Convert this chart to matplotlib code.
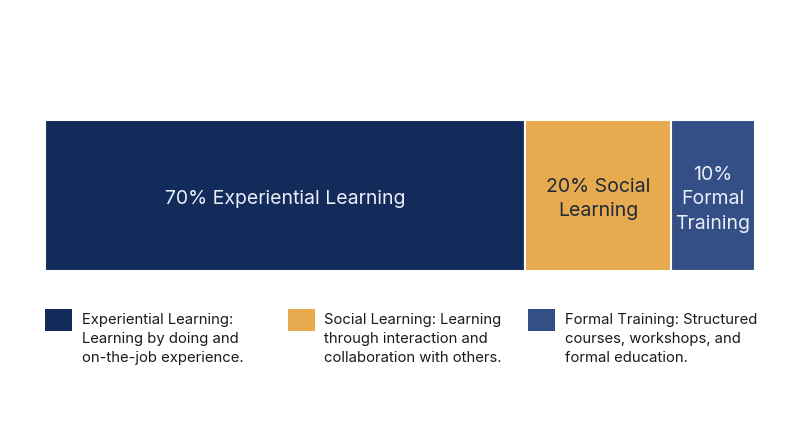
import matplotlib
matplotlib.use("Agg")
import matplotlib.pyplot as plt
from matplotlib.patches import Rectangle

plt.rcParams['font.family'] = ['Inter', 'DejaVu Sans']

# Data
categories = ["Experiential Learning", "Social Learning", "Formal Training"]
shares = [70, 20, 10]                 # labelled percentages
widths = [67.6, 20.6, 11.8]           # drawn widths
bar_labels = ["70% Experiential Learning", "20% Social\nLearning", "10%\nFormal\nTraining"]
legend_texts = [
    "Experiential Learning:\nLearning by doing and\non-the-job experience.",
    "Social Learning: Learning\nthrough interaction and\ncollaboration with others.",
    "Formal Training: Structured\ncourses, workshops, and\nformal education.",
]

colors = ["#132b5b", "#e8aa4e", "#344e86"]
text_colors = ["#e9eef7", "#1f2a3a", "#e9eef7"]

W, H = 800, 447
fig = plt.figure(figsize=(W / 100, H / 100), dpi=100)
fig.patch.set_facecolor("white")

# axes covering the bar area
x0, x1, ytop, ybot = 45, 755, 120, 271
ax = fig.add_axes([x0 / W, (H - ybot) / H, (x1 - x0) / W, (ybot - ytop) / H])
ax.set_xlim(0, sum(widths))
ax.set_ylim(0, 1)
ax.axis("off")

left = 0
for w, c, lab, tc in zip(widths, colors, bar_labels, text_colors):
    ax.barh(0.5, w, height=1.0, left=left, color=c, edgecolor="white", linewidth=1.5)
    ax.text(left + w / 2, 0.475, lab, ha="center", va="center", color=tc,
            fontsize=14, linespacing=1.45)
    left += w

# legend
sq_x = [45, 288, 528]
txt_x = [82, 324, 565]
for sx, tx, c, t in zip(sq_x, txt_x, colors, legend_texts):
    fig.add_artist(Rectangle((sx / W, (H - 331) / H), 27 / W, 22 / H,
                             transform=fig.transFigure, color=c, linewidth=0))
    fig.text(tx / W, (H - 339) / H, t, ha="left", va="center", fontsize=10.7,
             color="#1a1a1a", linespacing=1.42)

fig.savefig("out.png", dpi=100, facecolor="white")
